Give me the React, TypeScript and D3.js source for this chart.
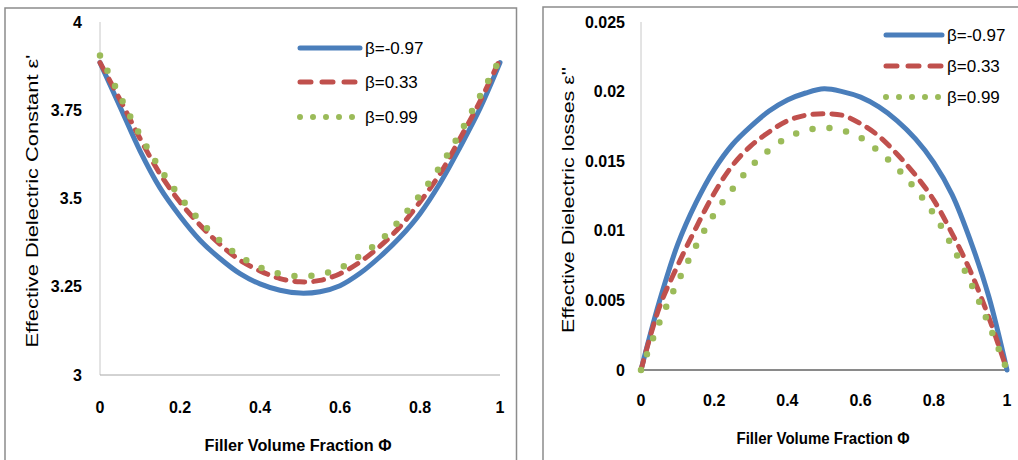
import React from "react";
import * as d3 from "d3";

const phi = [0, 0.05, 0.1, 0.15, 0.2, 0.25, 0.3, 0.35, 0.4, 0.45, 0.5, 0.55, 0.6, 0.65, 0.7, 0.75, 0.8, 0.85, 0.9, 0.95, 1];

// Effective dielectric constant ε'
const realNeg097 = [3.885, 3.76, 3.635, 3.53, 3.45, 3.382, 3.33, 3.287, 3.258, 3.24, 3.232, 3.236, 3.253, 3.288, 3.335, 3.39, 3.457, 3.543, 3.645, 3.755, 3.885];
const real033 = [3.885, 3.78, 3.67, 3.57, 3.49, 3.425, 3.37, 3.325, 3.295, 3.273, 3.264, 3.268, 3.287, 3.32, 3.365, 3.42, 3.49, 3.57, 3.67, 3.775, 3.895];
const real099 = [3.905, 3.79, 3.68, 3.585, 3.505, 3.437, 3.38, 3.336, 3.305, 3.287, 3.28, 3.285, 3.303, 3.338, 3.38, 3.44, 3.51, 3.59, 3.685, 3.79, 3.895];

// Effective dielectric losses ε''
const lossNeg097 = [0, 0.0049, 0.009, 0.012, 0.0144, 0.0162, 0.0175, 0.0186, 0.0194, 0.0199, 0.0202, 0.02, 0.0196, 0.0189, 0.0179, 0.0166, 0.0149, 0.0126, 0.0093, 0.0053, 0];
const loss033 = [0, 0.0045, 0.0075, 0.0102, 0.0127, 0.0147, 0.0161, 0.0171, 0.0179, 0.0183, 0.0184, 0.0183, 0.0177, 0.0168, 0.0155, 0.014, 0.0122, 0.0098, 0.0071, 0.0038, 0];
const loss099 = [0, 0.0034, 0.0063, 0.0089, 0.0112, 0.013, 0.0146, 0.0158, 0.0167, 0.0172, 0.0174, 0.0172, 0.0167, 0.0157, 0.0145, 0.013, 0.0112, 0.0089, 0.0063, 0.0033, 0];

const seriesNames = ["β=-0.97", "β=0.33", "β=0.99"];
const xTicks = [0, 0.2, 0.4, 0.6, 0.8, 1];
const xTickLabels = ["0", "0.2", "0.4", "0.6", "0.8", "1"];
const realTicks = [3, 3.25, 3.5, 3.75, 4];
const realTickLabels = ["3", "3.25", "3.5", "3.75", "4"];
const lossTicks = [0, 0.005, 0.01, 0.015, 0.02, 0.025];
const lossTickLabels = ["0", "0.005", "0.01", "0.015", "0.02", "0.025"];

const COLORS = ["#4a7ebb", "#c0504d", "#9bbb59"];
const FONT = "'Liberation Sans', Arial, sans-serif";

type PanelProps = {
  x0: number; x1: number; yTop: number; yBot: number;
  domain: [number, number];
  yTicks: number[]; yLabels: string[];
  series: number[][];
  yLabelX: number; xLabelY: number;
  xTitle: { x: number; y: number; len: number };
  yTitle: { x: number; y: number; len: number; text: string };
  legend: { x0: number; x1: number; ys: number[] };
  xAxisColor: string; xAxisWidth: number;
};

function styleFor(i: number) {
  if (i === 0) return { strokeWidth: 5, strokeDasharray: undefined as string | undefined, strokeLinecap: "round" as const };
  if (i === 1) return { strokeWidth: 5, strokeDasharray: "10 9", strokeLinecap: "round" as const };
  return { strokeWidth: 6.5, strokeDasharray: "0 17", strokeLinecap: "round" as const };
}
function legendDash(i: number) {
  if (i === 1) return "11 11";
  if (i === 2) return "0 13";
  return undefined;
}

function Panel(p: PanelProps) {
  const x = d3.scaleLinear().domain([0, 1]).range([p.x0, p.x1]);
  const y = d3.scaleLinear().domain(p.domain).range([p.yBot, p.yTop]);
  const line = d3
    .line<number>()
    .x((_, i) => x(phi[i]))
    .y((d) => y(d))
    .curve(d3.curveCatmullRom.alpha(0.5));
  return (
    <g>
      <line x1={p.x0} x2={p.x0} y1={p.yTop} y2={p.yBot} stroke="#c8c8c8" strokeWidth={1} />
      <line x1={p.x0} x2={p.x1} y1={p.yBot} y2={p.yBot} stroke={p.xAxisColor} strokeWidth={p.xAxisWidth} />
      {p.yTicks.map((t, i) => (
        <text key={"yt" + i} x={p.yLabelX} y={y(t)} textAnchor="end" dominantBaseline="central"
          fontFamily={FONT} fontWeight="bold" fontSize={16} fill="#000">{p.yLabels[i]}</text>
      ))}
      {xTicks.map((t, i) => (
        <text key={"xt" + i} x={x(t)} y={p.xLabelY} textAnchor="middle" dominantBaseline="central"
          fontFamily={FONT} fontWeight="bold" fontSize={16} fill="#000">{xTickLabels[i]}</text>
      ))}
      {p.series.map((s, i) => {
        const st = styleFor(i);
        return (
          <path key={"s" + i} d={line(s) || ""} fill="none" stroke={COLORS[i]}
            strokeWidth={st.strokeWidth} strokeDasharray={st.strokeDasharray}
            strokeLinecap={st.strokeLinecap} strokeLinejoin="round" />
        );
      })}
      {seriesNames.map((n, i) => (
        <g key={"lg" + i}>
          <line x1={p.legend.x0} x2={p.legend.x1} y1={p.legend.ys[i]} y2={p.legend.ys[i]}
            stroke={COLORS[i]} strokeWidth={i === 2 ? 6 : 5} strokeLinecap="round"
            strokeDasharray={legendDash(i)} />
          <text x={p.legend.x1 + 5} y={p.legend.ys[i]} dominantBaseline="central"
            fontFamily={FONT} fontSize={17} fill="#000">{n}</text>
        </g>
      ))}
      <text x={p.xTitle.x} y={p.xTitle.y} textAnchor="middle" dominantBaseline="central"
        fontFamily={FONT} fontWeight="bold" fontSize={16} fill="#000"
        textLength={p.xTitle.len} lengthAdjust="spacingAndGlyphs">Filler Volume Fraction Φ</text>
      <text transform={`translate(${p.yTitle.x},${p.yTitle.y}) rotate(-90)`} textAnchor="middle"
        dominantBaseline="central" fontFamily={FONT} fontSize={16} fill="#000"
        textLength={p.yTitle.len} lengthAdjust="spacingAndGlyphs">{p.yTitle.text}</text>
    </g>
  );
}

export default function App() {
  return (
    <svg width={1018} height={460} style={{ position: "absolute", left: 0, top: 0, background: "#fff" }}>
      <rect x={0} y={0} width={1018} height={460} fill="#fff" />
      {/* panel frames */}
      <path d="M5,470 L5,8 L516.5,8 L516.5,470" fill="none" stroke="#8c8c8c" strokeWidth={1.5} />
      <path d="M543,470 L543,7 L1025,7" fill="none" stroke="#8c8c8c" strokeWidth={1.5} />
      <Panel
        x0={100} x1={500} yTop={22} yBot={375} domain={[3, 4]}
        yTicks={realTicks} yLabels={realTickLabels}
        series={[realNeg097, real033, real099]}
        yLabelX={82} xLabelY={407}
        xTitle={{ x: 298, y: 445, len: 187 }}
        yTitle={{ x: 32, y: 201, len: 293, text: "Effective Dielectric Constant ε'" }}
        legend={{ x0: 300, x1: 360, ys: [48, 82, 117] }}
        xAxisColor="#a6a6a6" xAxisWidth={1}
      />
      <Panel
        x0={641} x1={1007} yTop={22} yBot={370} domain={[0, 0.025]}
        yTicks={lossTicks} yLabels={lossTickLabels}
        series={[lossNeg097, loss033, loss099]}
        yLabelX={625} xLabelY={400}
        xTitle={{ x: 823, y: 438, len: 173 }}
        yTitle={{ x: 568, y: 200, len: 266, text: "Effective Dielectric losses ε''" }}
        legend={{ x0: 886, x1: 942, ys: [35, 66, 97] }}
        xAxisColor="#8a8a8a" xAxisWidth={2}
      />
    </svg>
  );
}
